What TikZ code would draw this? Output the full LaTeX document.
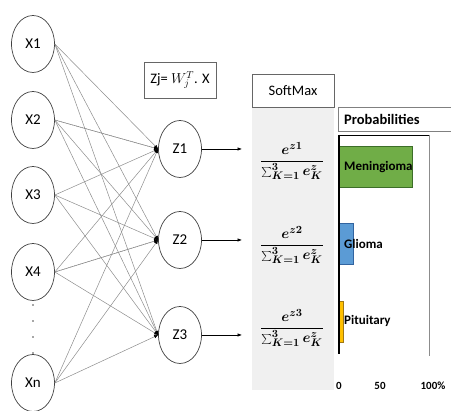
\documentclass[tikz,border=0pt]{standalone}
\usepackage{fontspec}
\setmainfont{Carlito}
\usetikzlibrary{shapes.geometric,arrows.meta}
\definecolor{bargreen}{RGB}{112,173,71}
\definecolor{bargreenD}{RGB}{60,110,40}
\definecolor{barblue}{RGB}{91,155,213}
\definecolor{barblueD}{RGB}{50,100,160}
\definecolor{barorange}{RGB}{255,192,0}
\definecolor{barorangeD}{RGB}{160,120,20}
\newcommand{\softfrac}[1]{$\displaystyle\frac{e^{z#1}}{\sum\nolimits_{K=1}^{3} e_K^{z}}$}
\begin{document}
\begin{tikzpicture}[x=1pt,y=-1pt,
  neuron/.style={draw=black!75, line width=0.7pt, ellipse, minimum width=43pt, minimum height=57pt, inner sep=0pt, font=\fontsize{15}{17}\selectfont},
  conn/.style={draw=black!45, line width=0.5pt, -{Latex[color=black,length=4pt,width=3.5pt]}},
  dconn/.style={conn, dash pattern=on 1.2pt off 0.8pt},
  outarrow/.style={draw=black, line width=0.6pt, -{Latex[length=4.5pt,width=3.5pt]}},
  fracnode/.style={font=\fontsize{15.5}{18}\selectfont\boldmath, inner sep=0pt, anchor=base},
  barlabel/.style={anchor=west, inner sep=0pt, font=\fontsize{13}{15}\selectfont\bfseries},
  axislabel/.style={inner sep=0pt, font=\fontsize{11}{13}\selectfont\bfseries}
]
\useasboundingbox (0,0) rectangle (451,411);
% input neurons
\node[neuron] (x1) at (33,44) {X1};
\node[neuron] (x2) at (33,120) {X2};
\node[neuron] (x3) at (33,195) {X3};
\node[neuron] (x4) at (33,272) {X4};
\node[neuron] (xn) at (33,383) {Xn};
\foreach \y in {305,321,337,353} \fill[black!70] (33,\y) circle (0.8);
% hidden/output neurons
\node[neuron] (z1) at (180,149) {Z1};
\node[neuron] (z2) at (180,240) {Z2};
\node[neuron] (z3) at (180,335) {Z3};
% connections
\foreach \a in {x1,x2,x3,x4,xn}{
  \foreach \b in {z1,z2,z3}{
    \draw[conn] (\a.east) -- (\b.west);
  }
}
\draw[dconn] (x2.east) -- (z1.west);
\draw[dconn] (x4.east) -- (z2.west);
% formula box
\node[draw=black!60, line width=0.6pt, minimum width=72pt, minimum height=36pt, font=\fontsize{14.5}{16}\selectfont] (zj) at (180,80) {Zj= $W_j^T$. X};
% softmax panel
\fill[black!6] (252,107) rectangle (334,390);
\node[draw=black!60, fill=white, line width=0.6pt, minimum width=82pt, minimum height=33pt, font=\fontsize{14.5}{16}\selectfont] (sm) at (293,90.5) {SoftMax};
\coordinate (s1) at (242,149);
\coordinate (s2) at (242,240);
\coordinate (s3) at (242,335);
\draw[outarrow] (z1.east) -- (s1);
\draw[outarrow] (z2.east) -- (s2);
\draw[outarrow] (z3.east) -- (s3);
\node[fracnode] (f1) at (292,165) {\softfrac{1}};
\node[fracnode] (f2) at (292,249) {\softfrac{2}};
\node[fracnode] (f3) at (292,332) {\softfrac{3}};
% probabilities
\node[draw=black!50, line width=0.6pt, fill=white, minimum width=114pt, minimum height=24pt, anchor=north west, inner sep=0pt] (pb) at (338,107) {};
\node[anchor=west, inner sep=0pt, font=\fontsize{14.5}{16}\selectfont\bfseries] (pt) at (344,119) {Probabilities};
% chart
\draw[black!45, line width=0.6pt] (429,135) -- (429,356);
\filldraw[fill=bargreen, draw=bargreenD, line width=0.5pt] (339,146) rectangle (412,187);
\filldraw[fill=barblue, draw=barblueD, line width=0.5pt] (339,223) rectangle (353,264);
\filldraw[fill=barorange, draw=barorangeD, line width=0.5pt] (339,301) rectangle (343,342);
\draw[black, line width=1.6pt] (338,135.5) -- (429,135.5);
\draw[black, line width=1.2pt] (339,135) -- (339,354);
\node[barlabel] (l1) at (344,167) {Meningioma};
\node[barlabel] (l2) at (344,244) {Glioma};
\node[barlabel] (l3) at (344,321) {Pituitary};
\node[axislabel] (a0) at (339,386) {0};
\node[axislabel] (a50) at (380,386) {50};
\node[axislabel] (a100) at (433,386) {100\%};
\end{tikzpicture}
\end{document}
